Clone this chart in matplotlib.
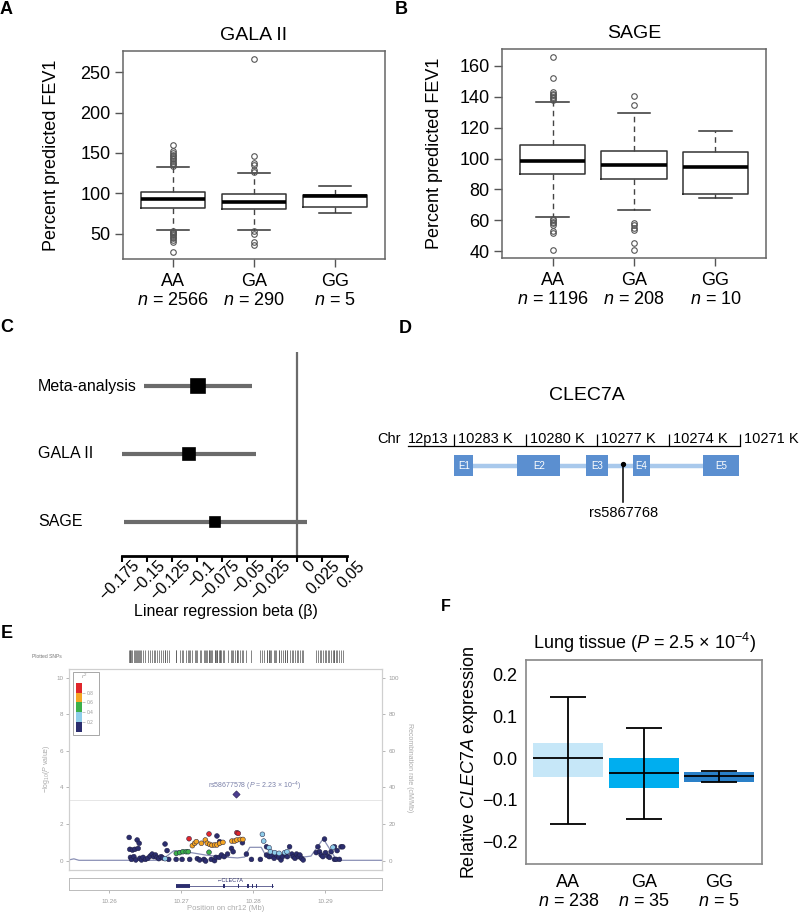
import numpy as np
import matplotlib
matplotlib.use('Agg')
import matplotlib.pyplot as plt
from matplotlib.patches import Rectangle
import matplotlib.transforms as mtransforms

plt.rcParams['font.family'] = ['Liberation Sans', 'DejaVu Sans']
plt.rcParams['mathtext.fontset'] = 'custom'
plt.rcParams['mathtext.rm'] = 'Liberation Sans'
plt.rcParams['mathtext.it'] = 'Liberation Sans:italic'
plt.rcParams['mathtext.bf'] = 'Liberation Sans:bold'

# ---------------- data ----------------
genotypes = ['AA', 'GA', 'GG']

# Panel A: GALA II
gala_n = [2566, 290, 5]
gala_q1 = [82.3, 81.0, 83.0]
gala_med = [92.6, 89.3, 96.7]
gala_q3 = [101.7, 99.7, 98.4]
gala_whislo = [54.5, 54.5, 76.0]
gala_whishi = [132.0, 125.3, 109.0]
gala_fliers = [
    [160, 152, 150, 148, 146, 144, 142, 140, 138, 136, 134,
     53, 52, 51, 50, 48, 46, 44, 42, 40, 27],
    [267, 146, 137, 135, 129, 127, 53, 50, 39.6, 36.3],
    [],
]

# Panel B: SAGE
sage_n = [1196, 208, 10]
sage_q1 = [90.0, 86.7, 77.3]
sage_med = [98.4, 96.0, 94.3]
sage_q3 = [108.6, 104.7, 104.0]
sage_whislo = [62.3, 66.7, 74.7]
sage_whishi = [136.8, 129.4, 117.7]
sage_fliers = [
    [166, 152, 143, 142, 141, 140, 139, 138,
     61, 60, 59, 58, 57, 53, 51.5, 40.5],
    [140.3, 134.9, 58.4, 57, 55, 53.5, 45.4, 40.5],
    [],
]

# Panel C: forest plot
forest_labels = ['Meta-analysis', 'GALA II', 'SAGE']
forest_beta = [-0.099, -0.108, -0.0813]
forest_lo = [-0.153, -0.175, -0.1727]
forest_hi = [-0.0445, -0.041, 0.010]
forest_xticks = [-0.175, -0.15, -0.125, -0.1, -0.075, -0.05, -0.025, 0, 0.025, 0.05]
forest_xticklabels = ['\u22120.175', '\u22120.15', '\u22120.125', '\u22120.1', '\u22120.075',
                      '\u22120.05', '\u22120.025', '0', '0.025', '0.05']

# Panel D: gene structure (positions in K on chr12)
scale_ticks_k = [10283, 10280, 10277, 10274, 10271]
exon_names = ['E1', 'E2', 'E3', 'E4', 'E5']
exon_start_k = [10283.0, 10280.35, 10277.48, 10275.5, 10272.54]
exon_end_k = [10282.2, 10278.56, 10276.55, 10274.8, 10271.04]
snp_k = 10275.9
snp_name = 'rs5867768'

# Panel E: regional association plot
snp_pos = [10.26277, 10.26286, 10.26323, 10.26356, 10.26295, 10.26309, 10.26342, 10.26369,
           10.26388, 10.26416, 10.26402, 10.26425, 10.26448, 10.26471, 10.26503, 10.26536,
           10.26568, 10.26596, 10.26619, 10.26642, 10.26665, 10.26688, 10.26720, 10.26743,
           10.26775, 10.26803, 10.26826, 10.26929, 10.27011, 10.27117, 10.27223, 10.27255,
           10.27315, 10.27338, 10.27416, 10.27462, 10.27495, 10.27532, 10.27480, 10.27526,
           10.27558, 10.27595, 10.27642, 10.27697, 10.27720, 10.27849, 10.27904, 10.27974,
           10.28098, 10.28183, 10.28183, 10.28220, 10.28252, 10.28289, 10.28320, 10.28352,
           10.28384, 10.28405, 10.28440, 10.28472, 10.28503, 10.28535, 10.28555, 10.28578,
           10.28600, 10.28625, 10.28646, 10.28669, 10.28692, 10.28873, 10.28896, 10.28919,
           10.28942, 10.28965, 10.28988, 10.29002, 10.29034, 10.29057, 10.29080, 10.29126,
           10.29149, 10.29126, 10.29163, 10.29218, 10.29241, 10.29195,
           # orange
           10.27154, 10.27186, 10.27209, 10.27279, 10.27334, 10.27361, 10.27394, 10.27426,
           10.27463, 10.27495, 10.27532, 10.27578, 10.27703, 10.27740, 10.27772, 10.27818,
           10.27855,
           # red
           10.27108, 10.27385, 10.27772, 10.27791,
           # green
           10.26931, 10.26977, 10.27023, 10.27069, 10.27097, 10.27385,
           # light blue
           10.26775, 10.28126, 10.28144, 10.28218, 10.28237, 10.28297, 10.28357, 10.28435,
           10.28467, 10.29105]
snp_logp = [1.27, 0.62, 0.58, 0.62, 0.18, 0.07, 0.22, 0.04,
            1.13, 0.95, 0.67, 0.13, 0.04, 0.18, 0.07, 0.13,
            0.25, 0.36, 0.22, 0.31, 0.18, 0.11, 0.22, 0.15,
            0.91, 0.55, 0.07, 0.07, 0.07, 0.07, 0.11, 0.04,
            0.07, -0.02, 0.07, 0.0, 1.35, 1.04, 0.18, 0.18,
            0.31, 0.22, 0.36, 0.67, 0.49, 0.98, 0.36, 0.07,
            0.07, 0.76, 0.31, 0.22, 0.25, 0.13, 0.31, 0.18,
            0.04, 0.22, 0.36, 0.22, 0.76, 0.36, 0.22, 0.13,
            0.36, 0.22, 0.31, 0.13, 0.04, 0.44, 0.76, 0.49,
            0.31, 0.22, 1.18, 0.44, 0.25, 0.18, 0.49, 0.07,
            0.07, 0.76, 0.55, 0.76, 0.76, 0.07,
            0.82, 0.95, 1.04, 0.95, 1.13, 0.95, 0.89, 0.84,
            0.86, 0.86, 0.95, 1.00, 1.07, 1.07, 1.13, 1.16,
            1.16,
            1.20, 1.46, 1.53, 1.49,
            0.40, 0.44, 0.49, 0.49, 0.49, 0.46,
            0.11, 1.44, 1.07, 0.71, 0.49, 0.44, 0.40, 0.44,
            0.49, 0.73]
snp_r2 = ([0.1] * 86 + [0.7] * 17 + [0.9] * 4 + [0.5] * 6 + [0.3] * 10)
top_snp_pos = 10.27759
top_snp_logp = 3.65
top_snp_label = 'rs58677578 ($P$ = 2.23 \u00d7 10$^{-4}$)'
threshold_logp = 3.32
rec_pos = [10.2545, 10.2551, 10.2558, 10.2670, 10.2680, 10.2690, 10.2712, 10.2735,
           10.2760, 10.2778, 10.2788, 10.2795, 10.2811, 10.2816, 10.2840, 10.2860,
           10.2880, 10.2897, 10.2913, 10.2920, 10.2979]
rec_rate = [0.5, 1.0, 0.2, 0.2, 2.5, 5.5, 4.5, 3.0,
            2.0, 1.5, 2.0, 7.3, 7.3, 3.7, 2.5, 1.5,
            2.5, 12.0, 2.0, 0.2, 0.2]
gene_start, gene_end = 10.2693, 10.2828
gene_exons = [(10.2693, 10.2712), (10.27585, 10.27605), (10.27785, 10.27805),
              (10.27915, 10.27935), (10.27975, 10.27995), (10.28035, 10.28055),
              (10.2826, 10.2828)]
r2_bins = [0.0, 0.2, 0.4, 0.6, 0.8, 1.0]
r2_colors = ['#2b2d6e', '#8fcdea', '#3cb04a', '#f5a623', '#e0262b']

# Panel F: eQTL
eqtl_n = [238, 35, 5]
eqtl_q1 = [-0.0455, -0.072, -0.056]
eqtl_med = [0.0, -0.0345, -0.0425]
eqtl_q3 = [0.036, 0.0, -0.032]
eqtl_lo = [-0.158, -0.145, -0.056]
eqtl_hi = [0.146, 0.0735, -0.031]
eqtl_colors = ['#c6e7f8', '#00aeef', '#2a80c8']

# ---------------- figure ----------------
W, H = 800, 917
fig = plt.figure(figsize=(8, 9.17), dpi=100)


def R(x0, y0, x1, y1):
    return [x0 / W, 1 - y1 / H, (x1 - x0) / W, (y1 - y0) / H]


def fx(x):
    return x / W


def fy(y):
    return 1 - y / H


# panel letters
for letter, (x, y), size in [('A', (0, 1), 13), ('B', (395, 1), 13), ('C', (0, 319), 13),
                             ('D', (399, 320), 13), ('E', (1, 625), 13), ('F', (441, 599), 11.5)]:
    fig.text(fx(x), fy(y), letter, fontsize=size, fontweight='bold', ha='left', va='top')


def boxpanel(rect, title, q1, med, q3, lo, hi, fliers, ns, ylim, yticks, ylab_x):
    ax = fig.add_axes(rect)
    stats = [dict(q1=q1[i], med=med[i], q3=q3[i], whislo=lo[i], whishi=hi[i],
                  fliers=fliers[i]) for i in range(3)]
    ax.bxp(stats, positions=[1, 2, 3], widths=0.8, capwidths=0.4,
           boxprops=dict(color='#333333', lw=1.1),
           whiskerprops=dict(color='#444444', lw=1.0, ls=(0, (4, 3))),
           capprops=dict(color='#333333', lw=1.1),
           medianprops=dict(color='black', lw=2.6),
           flierprops=dict(marker='o', mfc='none', mec='#555555', ms=4.0, mew=0.8))
    ax.set_xlim(0.38, 3.62)
    ax.set_ylim(*ylim)
    ax.set_yticks(yticks)
    ax.set_yticklabels([str(t) for t in yticks])
    ax.set_xticks([1, 2, 3])
    ax.set_xticklabels([f'{g}\n$n$ = {n}' for g, n in zip(genotypes, ns)], linespacing=1.15)
    ax.tick_params(axis='both', labelsize=13, length=6, width=1, color='#555555', pad=3)
    ax.tick_params(axis='x', pad=4)
    for s in ax.spines.values():
        s.set_color('#666666')
        s.set_linewidth(1.1)
    ax.set_title(title, fontsize=14, pad=8)
    ax.set_ylabel('Percent predicted FEV1', fontsize=13)
    ax.yaxis.label.set_va('center')
    ax.yaxis.set_label_coords(ylab_x, 0.5)
    return ax


boxpanel(R(123, 51, 385, 259), 'GALA II', gala_q1, gala_med, gala_q3, gala_whislo,
         gala_whishi, gala_fliers, gala_n, (18.4, 276.6), [50, 100, 150, 200, 250], -0.271)
boxpanel(R(502, 49, 766, 258), 'SAGE', sage_q1, sage_med, sage_q3, sage_whislo,
         sage_whishi, sage_fliers, sage_n, (35.5, 171.0), [40, 60, 80, 100, 120, 140, 160], -0.254)

# ---------------- Panel C ----------------
axC = fig.add_axes(R(121.7, 352, 346.7, 556))
ypos = [3, 2, 1]
msz = [9.5, 8.8, 7.5]
for i in range(3):
    axC.plot([forest_lo[i], forest_hi[i]], [ypos[i], ypos[i]], color='#6b6b6b', lw=3.0,
             solid_capstyle='butt', zorder=2)
    axC.plot(forest_beta[i], ypos[i], marker='s', ms=msz[i], color='black', mec='black',
             mew=1.2, zorder=3)
axC.axvline(0, color='#6b6b6b', lw=1.6, zorder=1)
axC.set_xlim(-0.175, 0.05)
axC.set_ylim(0.5, 3.5)
for s in ['top', 'right', 'left']:
    axC.spines[s].set_visible(False)
axC.spines['bottom'].set_linewidth(2.0)
axC.set_yticks([])
axC.set_xticks(forest_xticks)
axC.set_xticklabels(forest_xticklabels, rotation=45, ha='right', va='top',
                    rotation_mode='anchor')
axC.tick_params(axis='x', labelsize=11.5, length=4, width=1.5, pad=2)
shift = mtransforms.ScaledTranslation(7.5 / 72, 4.5 / 72, fig.dpi_scale_trans)
for lab in axC.get_xticklabels():
    lab.set_transform(lab.get_transform() + shift)
trC = mtransforms.blended_transform_factory(fig.transFigure, axC.transData)
for i in range(3):
    axC.text(fx(38), ypos[i], forest_labels[i], transform=trC, ha='left', va='center',
             fontsize=11.5)
axC.set_xlabel('Linear regression beta (\u03b2)', fontsize=11.5)
axC.xaxis.label.set_va('center')
axC.xaxis.set_label_coords(0.464, -(611.7 - 556) / 204)

# ---------------- Panel D ----------------
axD = fig.add_axes(R(370, 380, 800, 530))
axD.set_xlim(10286.54, 10268.48)
axD.set_ylim(530, 380)
axD.axis('off')
axD.text(10277.44, 395, 'CLEC7A', ha='center', va='center', fontsize=14)
axD.text(10286.25, 443, 'Chr', ha='left', va='baseline', fontsize=10.5)
axD.text(10284.95, 443, '12p13', ha='left', va='baseline', fontsize=10.5)
axD.plot([10284.95, scale_ticks_k[-1]], [445.7, 445.7], color='black', lw=0.9)
axD.vlines(scale_ticks_k, 434, 445.7, color='black', lw=0.9)
for k in scale_ticks_k:
    axD.text(k - 0.17, 443, f'{k} K', ha='left', va='baseline', fontsize=10.5)
axD.plot([exon_start_k[0], exon_end_k[-1]], [465.7, 465.7], color='#a9c9ec', lw=3.2,
         solid_capstyle='butt', zorder=1)
centers = [(s + e) / 2 for s, e in zip(exon_start_k, exon_end_k)]
widths = [abs(s - e) for s, e in zip(exon_start_k, exon_end_k)]
axD.bar(centers, [21] * 5, width=widths, bottom=455, color='#5b8fd0', zorder=2)
for c, name in zip(centers, exon_names):
    axD.text(c, 466, name, color='white', fontsize=7, ha='center', va='center', zorder=3)
axD.plot([snp_k, snp_k], [464, 501.7], color='black', lw=1.1, zorder=4)
axD.plot(snp_k, 464, 'o', color='black', ms=2.8, zorder=5)
axD.text(snp_k, 513, snp_name, ha='center', va='center', fontsize=10.5)

# ---------------- Panel E ----------------
xlimE = (10.25446, 10.2979)
grey = '#9a9a9a'
axR = fig.add_axes(R(69.3, 650, 382.3, 663))
axR.vlines(snp_pos, 0, 1, color='#555555', lw=0.5)
axR.set_xlim(*xlimE)
axR.set_ylim(0, 1)
axR.axis('off')
fig.text(fx(32), fy(657), 'Plotted SNPs', fontsize=3.6, color='#777777', va='center')

axE = fig.add_axes(R(69.3, 669.3, 382.3, 870))
axE.set_xlim(*xlimE)
axE.set_ylim(-0.51, 10.46)
axE2 = axE.twinx()
axE2.set_ylim(-5.1, 104.6)
axE2.plot(rec_pos, rec_rate, color='#8a90b5', lw=0.9, zorder=1)
axE.axhline(threshold_logp, color='#e2e2e2', lw=0.6, zorder=0)
cols = [r2_colors[min(int(r / 0.2), 4)] for r in snp_r2]
axE.scatter(snp_pos, snp_logp, c=cols, s=12, edgecolors='#1e1e40', linewidths=0.35, zorder=3)
axE.scatter([top_snp_pos], [top_snp_logp], marker='D', s=14, c='#4b3d8f',
            edgecolors='#2a2050', linewidths=0.4, zorder=4)
axE.text(top_snp_pos + 0.0026, top_snp_logp + 0.42, top_snp_label, fontsize=5,
         color='#7a80a8', ha='center', va='center')
axE.set_zorder(axE2.get_zorder() + 1)
axE.patch.set_visible(False)
axE.set_xticks([])
axE.set_yticks([0, 2, 4, 6, 8, 10])
axE2.set_yticks([0, 20, 40, 60, 80, 100])
for a in (axE, axE2):
    a.tick_params(labelsize=4.5, colors=grey, length=2.5, width=0.5, pad=2)
    for s in a.spines.values():
        s.set_color('#cfcfcf')
        s.set_linewidth(0.8)
axE.set_ylabel('\u2212log$_{10}$($P$ value)', fontsize=5, color='#aaaaaa')
axE.yaxis.label.set_va('center')
axE.yaxis.set_label_coords((46 - 69.3) / 313, 0.503)
axE2.set_ylabel('Recombination rate (cM/Mb)', fontsize=5, color='#aaaaaa', rotation=270)
axE2.yaxis.label.set_va('center')
axE2.yaxis.set_label_coords((410 - 69.3) / 313, 0.508)

# r2 legend
fig.patches.append(Rectangle((fx(72.7), fy(735)), (98.7 - 72.7) / W, (735 - 671.7) / H,
                             transform=fig.transFigure, fill=False, ec='#999999', lw=0.6))
axL = fig.add_axes(R(76, 683, 82.3, 731.7))
axL.bar([0] * 5, np.diff(r2_bins), bottom=r2_bins[:-1], width=1, color=r2_colors,
        align='center')
axL.set_xlim(-0.5, 0.5)
axL.set_ylim(0, 1)
axL.set_xticks([])
axL.yaxis.tick_right()
axL.set_yticks(r2_bins[1:-1])
axL.set_yticklabels([f'{b:.1f}' for b in r2_bins[1:-1]])
axL.tick_params(axis='y', labelsize=3.5, colors=grey, length=2, width=0.4, pad=1)
for s in axL.spines.values():
    s.set_visible(False)
fig.text(fx(84), fy(676.5), '$r^2$', fontsize=4.5, color=grey, ha='center', va='center')

# gene track
axG = fig.add_axes(R(69.3, 878.3, 382.3, 890))
axG.set_xlim(*xlimE)
axG.set_ylim(0, 1)
axG.plot([gene_start, gene_end], [0.34, 0.34], color='#2b2d6e', lw=0.5)
for s, e in gene_exons:
    axG.plot([s, e], [0.34, 0.34], color='#2b2d6e', lw=2.8, solid_capstyle='butt')
axG.text((gene_start + gene_end) / 2 + 0.0008, 0.78, '\u2190CLEC7A', fontsize=4,
         color='#2b2d6e', ha='center', va='center')
axG.set_yticks([])
axG.set_xticks([10.26, 10.27, 10.28, 10.29])
axG.set_xticklabels(['10.26', '10.27', '10.28', '10.29'])
axG.tick_params(axis='x', labelsize=4.5, colors=grey, length=2.5, width=0.5, pad=4)
for s in axG.spines.values():
    s.set_color('#bbbbbb')
    s.set_linewidth(0.7)
axG.set_xlabel('Position on chr12 (Mb)', fontsize=5.5, color='#aaaaaa', labelpad=1)

# ---------------- Panel F ----------------
axF = fig.add_axes(R(526, 660.3, 762.3, 864))
posF = np.array([1, 2, 3])
q1 = np.array(eqtl_q1)
q3 = np.array(eqtl_q3)
med = np.array(eqtl_med)
axF.bar(posF, q3 - q1, bottom=q1, width=0.93, color=eqtl_colors, zorder=1)
axF.hlines(med, posF - 0.465, posF + 0.465, color='black', lw=1.3, zorder=3)
axF.errorbar(posF, med, yerr=[med - np.array(eqtl_lo), np.array(eqtl_hi) - med], fmt='none',
             ecolor='black', elinewidth=1.3, capsize=13, capthick=1.3, zorder=4)
axF.set_xlim(0.438, 3.571)
axF.set_ylim(-0.2535, 0.235)
fticks = [-0.2, -0.1, 0.0, 0.1, 0.2]
axF.set_yticks(fticks)
axF.set_yticklabels([f'{t:.1f}'.replace('-', '\u2212') for t in fticks])
axF.set_xticks([1, 2, 3])
axF.set_xticklabels([f'{g}\n$n$ = {n}' for g, n in zip(genotypes, eqtl_n)], linespacing=1.15)
axF.tick_params(axis='both', labelsize=13, length=0, pad=6)
axF.tick_params(axis='x', pad=7)
for s in axF.spines.values():
    s.set_color('#888888')
    s.set_linewidth(1.2)
axF.set_title('Lung tissue ($P$ = 2.5 \u00d7 10$^{-4}$)', fontsize=13, pad=8)
axF.set_ylabel('Relative $CLEC7A$ expression', fontsize=13)
axF.yaxis.label.set_va('center')
axF.yaxis.set_label_coords((470 - 526) / 236.3, 0.5)

fig.savefig('out.png', dpi=100)
